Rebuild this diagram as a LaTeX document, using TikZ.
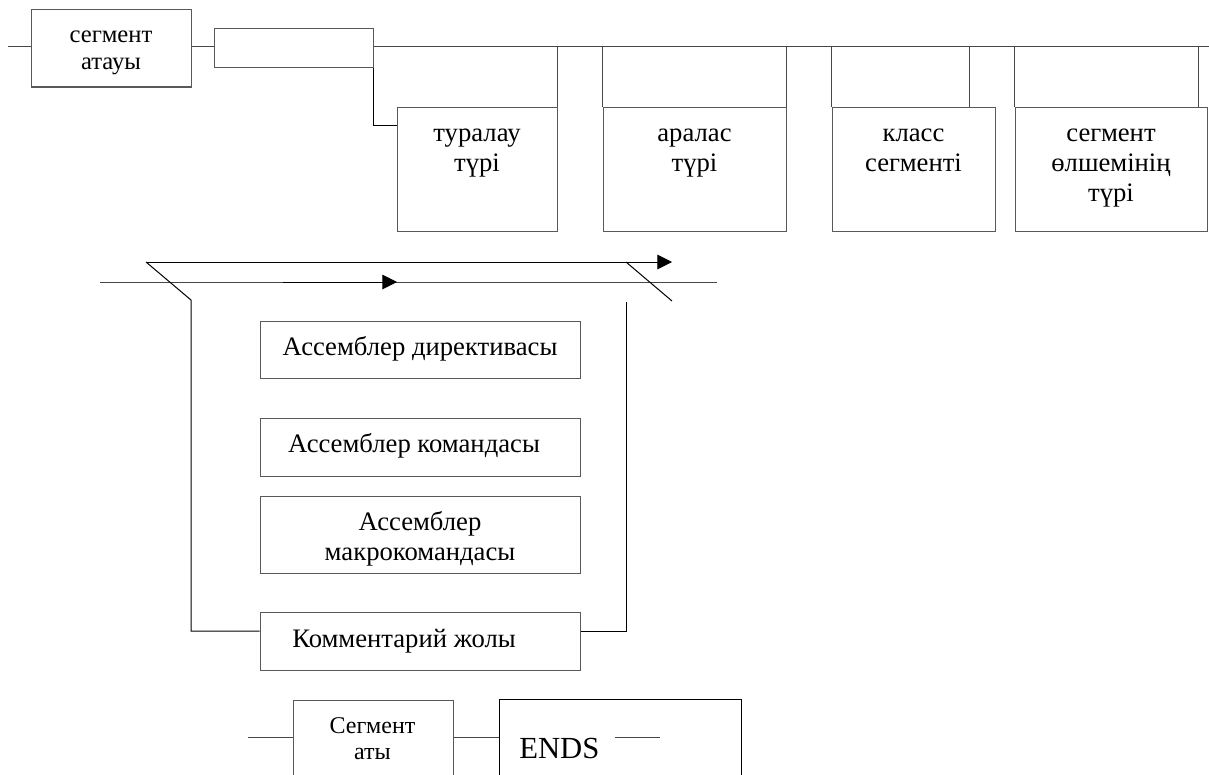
\documentclass[tikz,border=0pt]{standalone}
\usepackage{fontspec}
\setmainfont{Liberation Serif}
\usetikzlibrary{arrows.meta}
\begin{document}
\begin{tikzpicture}[x=0.75pt, y=-0.75pt,
  ln/.style={draw=black!72, line width=0.75pt},
  dk/.style={draw=black, line width=0.75pt},
  box/.style={draw=black!65, line width=0.75pt, rectangle, inner sep=0pt},
  txt/.style={inner sep=0pt, text width=150pt, align=center, anchor=base,
              font=\fontsize{20pt}{22.5pt}\selectfont},
  one/.style={inner sep=0pt, anchor=base, font=\fontsize{20pt}{22.5pt}\selectfont},
  tip/.style={-{Triangle[length=11pt,width=11pt]}}
]
\clip (0,0) rectangle (1209,774);
\fill[white] (0,0) rectangle (1209,774);

% ---- segment header line ----
\node[box, minimum width=120pt, minimum height=57.75pt] (A) at (111,48.5) {};
\node[txt, font=\fontsize{18.5pt}{20.25pt}\selectfont] (At) at (111,43) {сегмент\\атауы};
\node[box, minimum width=119.25pt, minimum height=29.25pt] (E) at (293.5,48.5) {};

\node[box, minimum width=120pt, minimum height=93pt] (T) at (477,169) {};
\node[txt] (Tt) at (477,141.7) {туралау\\түрі};
\node[box, minimum width=137.25pt, minimum height=93pt] (R) at (694.5,169) {};
\node[txt] (Rt) at (694.5,141.7) {аралас\\түрі};
\node[box, minimum width=122.25pt, minimum height=93pt] (K) at (913.5,169) {};
\node[txt] (Kt) at (913.5,141.7) {класс\\сегменті};
\node[box, minimum width=144pt, minimum height=93pt] (S) at (1111,169) {};
\node[txt] (St) at (1111,141.7) {сегмент\\өлшемінің\\түрі};

\coordinate (c0) at (8,47);
\coordinate (cR) at (1209,47);
\coordinate (k2) at (969,47);
\coordinate (s2) at (1198,47);
\draw[ln] (c0) -- (c0 -| A.west);
\draw[ln] (A.east |- c0) -- (E.west |- c0);
\draw[ln] (E.east |- c0) -- (cR);
\draw[dk] (E.south east) |- ([yshift=-14.25pt]T.north west);
\draw[ln] (T.north east |- c0) -- (T.north east);
\draw[ln] (R.north west |- c0) -- (R.north west);
\draw[ln] (R.north east |- c0) -- (R.north east);
\draw[ln] (K.north west |- c0) -- (K.north west);
\draw[ln] (k2) -- (k2 |- K.north);
\draw[ln] (S.north west |- c0) -- (S.north west);
\draw[ln] (s2) -- (s2 |- S.north);

% ---- segment body loop ----
\node[box, minimum width=240pt, minimum height=42.75pt] (D1) at (420,349.5) {};
\node[one] (D1t) at (420,355) {Ассемблер директивасы};
\node[box, minimum width=240pt, minimum height=43.5pt] (D2) at (420,447) {};
\node[one] (D2t) at (414,452) {Ассемблер командасы};
\node[box, minimum width=240pt, minimum height=57.75pt] (D3) at (420,534.5) {};
\node[txt] (D3t) at (420,530) {Ассемблер\\макрокомандасы};
\node[box, minimum width=240pt, minimum height=43.5pt] (D4) at (420,641) {};
\node[one] (D4t) at (404,647) {Комментарий жолы};

\coordinate (L0) at (100,282);
\coordinate (L1) at (717,282);
\coordinate (a0) at (283,282);
\coordinate (a1) at (397,282);
\coordinate (U0) at (146,262);
\coordinate (U1) at (672,262);
\coordinate (LV) at (191,300);
\coordinate (RV) at (626,302);
\coordinate (RD0) at (626,262);
\coordinate (RD1) at (672,301);
\draw[ln] (L0) -- (L1);
\draw[dk, tip] (a0) -- (a1);
\draw[dk, tip] (U0) -- (U1);
\draw[dk] (U0) -- (LV) |- ([yshift=7.5pt]D4.west);
\draw[dk] ([yshift=7.5pt]D4.east) -| (RV);
\draw[dk] (RD0) -- (RD1);

% ---- segment end ----
\node[box, minimum width=120pt, minimum height=82.5pt] (B1) at (373,755) {};
\node[txt, font=\fontsize{18pt}{19.5pt}\selectfont] (B1t) at (372.5,733) {Сегмент\\аты};
\node[box, draw=black, minimum width=181.5pt, minimum height=83.25pt] (N) at (620,754.5) {};
\node[inner sep=0pt, anchor=base west, font=\fontsize{23pt}{26pt}\selectfont] (Nt) at (519,758) {ENDS};

\coordinate (b0) at (248,737.5);
\coordinate (e0) at (615,737.5);
\coordinate (e1) at (660,737.5);
\draw[ln] (b0) -- (b0 -| B1.west);
\draw[ln] (B1.east |- b0) -- (N.west |- b0);
\draw[ln] (e0) -- (e1);
\end{tikzpicture}
\end{document}
